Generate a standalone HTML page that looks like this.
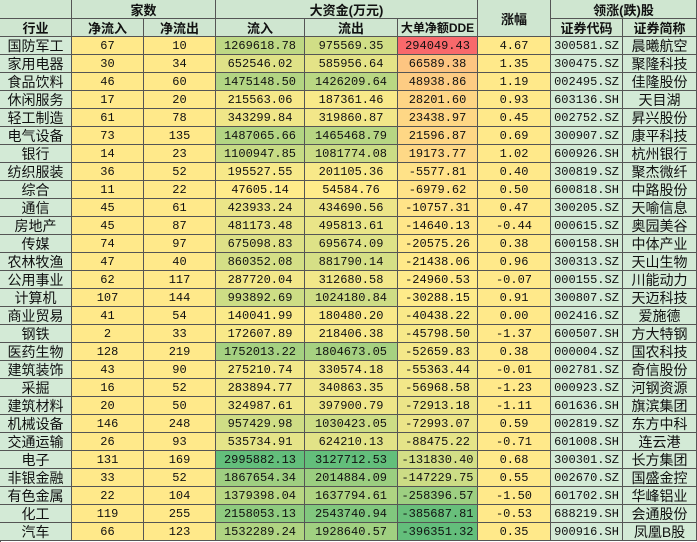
<!DOCTYPE html><html><head><meta charset="utf-8"><style>
body{margin:0;width:697px;height:542px;overflow:hidden;background:#fff}
.c{position:absolute;box-sizing:border-box;border-right:1px solid #555;border-bottom:1px solid #555;display:flex;align-items:center;justify-content:center;white-space:nowrap;overflow:hidden}
.h{background:#cfe6d0;font:bold 13px "Liberation Sans","Noto Sans CJK SC",sans-serif;color:#111}
.n{font:12px "Liberation Mono","Noto Sans CJK SC",monospace;color:#111}
.t{font:14px "Liberation Sans","Noto Sans CJK SC",sans-serif;color:#111;background:#d3ead6}
</style></head><body><div id="w" style="position:relative;width:697px;height:542px;border-left:1px solid #555;border-top:1px solid #555;box-sizing:border-box"></div>
<script>
const X=[0,72,144,216,305,398,478,551,623,697];
const D=`国防军工,67,10,1269618.78,975569.35,294049.43,4.67,300581.SZ,晨曦航空
家用电器,30,34,652546.02,585956.64,66589.38,1.35,300475.SZ,聚隆科技
食品饮料,46,60,1475148.50,1426209.64,48938.86,1.19,002495.SZ,佳隆股份
休闲服务,17,20,215563.06,187361.46,28201.60,0.93,603136.SH,天目湖
轻工制造,61,78,343299.84,319860.87,23438.97,0.45,002752.SZ,昇兴股份
电气设备,73,135,1487065.66,1465468.79,21596.87,0.69,300907.SZ,康平科技
银行,14,23,1100947.85,1081774.08,19173.77,1.02,600926.SH,杭州银行
纺织服装,36,52,195527.55,201105.36,-5577.81,0.40,300819.SZ,聚杰微纤
综合,11,22,47605.14,54584.76,-6979.62,0.50,600818.SH,中路股份
通信,45,61,423933.24,434690.56,-10757.31,0.47,300205.SZ,天喻信息
房地产,45,87,481173.48,495813.61,-14640.13,-0.44,000615.SZ,奥园美谷
传媒,74,97,675098.83,695674.09,-20575.26,0.38,600158.SH,中体产业
农林牧渔,47,40,860352.08,881790.14,-21438.06,0.96,300313.SZ,天山生物
公用事业,62,117,287720.04,312680.58,-24960.53,-0.07,000155.SZ,川能动力
计算机,107,144,993892.69,1024180.84,-30288.15,0.91,300807.SZ,天迈科技
商业贸易,41,54,140041.99,180480.20,-40438.22,0.00,002416.SZ,爱施德
钢铁,2,33,172607.89,218406.38,-45798.50,-1.37,600507.SH,方大特钢
医药生物,128,219,1752013.22,1804673.05,-52659.83,0.38,000004.SZ,国农科技
建筑装饰,43,90,275210.74,330574.18,-55363.44,-0.01,002781.SZ,奇信股份
采掘,16,52,283894.77,340863.35,-56968.58,-1.23,000923.SZ,河钢资源
建筑材料,20,50,324987.61,397900.79,-72913.18,-1.11,601636.SH,旗滨集团
机械设备,146,248,957429.98,1030423.05,-72993.07,0.59,002819.SZ,东方中科
交通运输,26,93,535734.91,624210.13,-88475.22,-0.71,601008.SH,连云港
电子,131,169,2995882.13,3127712.53,-131830.40,0.68,300301.SZ,长方集团
非银金融,33,52,1867654.34,2014884.09,-147229.75,0.55,002670.SZ,国盛金控
有色金属,22,104,1379398.04,1637794.61,-258396.57,-1.50,601702.SH,华峰铝业
化工,119,255,2158053.13,2543740.94,-385687.81,-0.53,688219.SH,会通股份
汽车,66,123,1532289.24,1928640.57,-396351.32,0.35,900916.SH,凤凰B股`.split('\n').map(l=>l.split(','));
const w=document.getElementById('w');
function cell(x0,x1,y0,y1,txt,cls,bg){const d=document.createElement('div');d.className='c '+cls;d.style.left=(X[x0]-1)+'px';d.style.width=(X[x1]-X[x0])+'px';d.style.top=(y0-1)+'px';d.style.height=(y1-y0)+'px';d.textContent=txt;if(bg)d.style.background=bg;w.appendChild(d);return d;}
cell(0,1,0,19,'','h');cell(1,3,0,19,'家数','h');cell(3,6,0,19,'大资金(万元)','h');cell(6,7,0,37,'涨幅','h');cell(7,9,0,19,'领涨(跌)股','h');
['行业','净流入','净流出','流入','流出','大单净额DDE'].forEach((s,i)=>{const d=cell(i,i+1,19,37,s,'h');if(i==5)d.style.fontSize='12px';});
cell(7,8,19,37,'证券代码','h');cell(8,9,19,37,'证券简称','h');
const Y=[255,235,138],G=[99,190,123],R=[248,105,107];
const mix=(a,b,t)=>'rgb('+a.map((v,i)=>Math.round(v+(b[i]-v)*t)).join(',')+')';
function sc(col){const v=D.map(r=>+r[col]);return [Math.min(...v),Math.max(...v)];}
const s3=sc(3),s4=sc(4),s5=sc(5);const med=-27000;
D.forEach((r,i)=>{const y0=37+i*18,y1=y0+18;
cell(0,1,y0,y1,r[0],'t');cell(1,2,y0,y1,r[1],'n','#ffe98a');cell(2,3,y0,y1,r[2],'n','#ffe98a');
cell(3,4,y0,y1,r[3],'n',mix(Y,G,(r[3]-s3[0])/(s3[1]-s3[0])));
cell(4,5,y0,y1,r[4],'n',mix(Y,G,(r[4]-s4[0])/(s4[1]-s4[0])));
const v=+r[5];cell(5,6,y0,y1,r[5],'n',v>med?mix(Y,R,(v-med)/(s5[1]-med)):mix(Y,G,(med-v)/(med-s5[0])));
cell(6,7,y0,y1,r[6],'n','#ffe98a');cell(7,8,y0,y1,r[7],'n','#d3ead6');cell(8,9,y0,y1,r[8],'t');});
</script></body></html>
